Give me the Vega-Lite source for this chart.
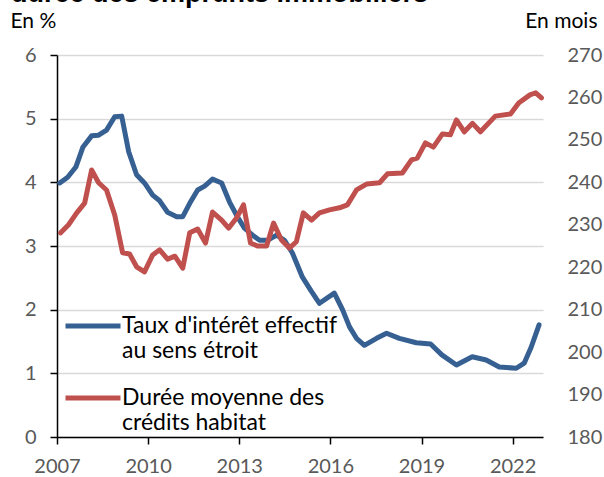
{
  "$schema": "https://vega.github.io/schema/vega-lite/v6.json",
  "autosize": {"type": "none"},
  "padding": {"left": 57, "top": 55, "right": 61, "bottom": 40},
  "width": 486,
  "height": 382,
  "background": "white",
  "title": {
    "text": "durée des emprunts immobiliers",
    "anchor": "start",
    "frame": "group",
    "dx": -46,
    "dy": 25,
    "baseline": "alphabetic",
    "offset": 6,
    "font": "Liberation Sans",
    "fontSize": 27,
    "fontWeight": "bold",
    "color": "black"
  },
  "config": {
    "view": {"stroke": null},
    "font": "Lato",
    "axis": {
      "labelFont": "Lato",
      "labelFontSize": 20,
      "labelColor": "#595959",
      "titleFont": "Lato",
      "titleFontSize": 21,
      "titleFontWeight": "normal",
      "titleColor": "#000000"
    },
    "legend": {
      "labelFont": "Lato",
      "labelFontSize": 23
    }
  },
  "data": {
    "values": [
      {"annee": 2007.09, "serie": "Taux d'intérêt effectif au sens étroit", "valeur": 3.99},
      {"annee": 2007.35, "serie": "Taux d'intérêt effectif au sens étroit", "valeur": 4.08},
      {"annee": 2007.62, "serie": "Taux d'intérêt effectif au sens étroit", "valeur": 4.24},
      {"annee": 2007.85, "serie": "Taux d'intérêt effectif au sens étroit", "valeur": 4.55},
      {"annee": 2008.14, "serie": "Taux d'intérêt effectif au sens étroit", "valeur": 4.73},
      {"annee": 2008.37, "serie": "Taux d'intérêt effectif au sens étroit", "valeur": 4.74},
      {"annee": 2008.63, "serie": "Taux d'intérêt effectif au sens étroit", "valeur": 4.82},
      {"annee": 2008.90, "serie": "Taux d'intérêt effectif au sens étroit", "valeur": 5.03},
      {"annee": 2009.13, "serie": "Taux d'intérêt effectif au sens étroit", "valeur": 5.04},
      {"annee": 2009.36, "serie": "Taux d'intérêt effectif au sens étroit", "valeur": 4.48},
      {"annee": 2009.62, "serie": "Taux d'intérêt effectif au sens étroit", "valeur": 4.12},
      {"annee": 2009.88, "serie": "Taux d'intérêt effectif au sens étroit", "valeur": 3.99},
      {"annee": 2010.15, "serie": "Taux d'intérêt effectif au sens étroit", "valeur": 3.80},
      {"annee": 2010.38, "serie": "Taux d'intérêt effectif au sens étroit", "valeur": 3.71},
      {"annee": 2010.64, "serie": "Taux d'intérêt effectif au sens étroit", "valeur": 3.53},
      {"annee": 2010.94, "serie": "Taux d'intérêt effectif au sens étroit", "valeur": 3.46},
      {"annee": 2011.14, "serie": "Taux d'intérêt effectif au sens étroit", "valeur": 3.46},
      {"annee": 2011.37, "serie": "Taux d'intérêt effectif au sens étroit", "valeur": 3.67},
      {"annee": 2011.63, "serie": "Taux d'intérêt effectif au sens étroit", "valeur": 3.88},
      {"annee": 2011.86, "serie": "Taux d'intérêt effectif au sens étroit", "valeur": 3.94},
      {"annee": 2012.12, "serie": "Taux d'intérêt effectif au sens étroit", "valeur": 4.05},
      {"annee": 2012.42, "serie": "Taux d'intérêt effectif au sens étroit", "valeur": 3.99},
      {"annee": 2012.68, "serie": "Taux d'intérêt effectif au sens étroit", "valeur": 3.69},
      {"annee": 2012.94, "serie": "Taux d'intérêt effectif au sens étroit", "valeur": 3.46},
      {"annee": 2013.17, "serie": "Taux d'intérêt effectif au sens étroit", "valeur": 3.28},
      {"annee": 2013.44, "serie": "Taux d'intérêt effectif au sens étroit", "valeur": 3.17},
      {"annee": 2013.67, "serie": "Taux d'intérêt effectif au sens étroit", "valeur": 3.09},
      {"annee": 2013.93, "serie": "Taux d'intérêt effectif au sens étroit", "valeur": 3.09},
      {"annee": 2014.23, "serie": "Taux d'intérêt effectif au sens étroit", "valeur": 3.17},
      {"annee": 2014.49, "serie": "Taux d'intérêt effectif au sens étroit", "valeur": 3.09},
      {"annee": 2014.75, "serie": "Taux d'intérêt effectif au sens étroit", "valeur": 2.89},
      {"annee": 2015.08, "serie": "Taux d'intérêt effectif au sens étroit", "valeur": 2.51},
      {"annee": 2015.36, "serie": "Taux d'intérêt effectif au sens étroit", "valeur": 2.30},
      {"annee": 2015.64, "serie": "Taux d'intérêt effectif au sens étroit", "valeur": 2.10},
      {"annee": 2016.13, "serie": "Taux d'intérêt effectif au sens étroit", "valeur": 2.26},
      {"annee": 2016.40, "serie": "Taux d'intérêt effectif au sens étroit", "valeur": 2.00},
      {"annee": 2016.63, "serie": "Taux d'intérêt effectif au sens étroit", "valeur": 1.73},
      {"annee": 2016.86, "serie": "Taux d'intérêt effectif au sens étroit", "valeur": 1.55},
      {"annee": 2017.12, "serie": "Taux d'intérêt effectif au sens étroit", "valeur": 1.44},
      {"annee": 2017.52, "serie": "Taux d'intérêt effectif au sens étroit", "valeur": 1.55},
      {"annee": 2017.85, "serie": "Taux d'intérêt effectif au sens étroit", "valeur": 1.63},
      {"annee": 2018.27, "serie": "Taux d'intérêt effectif au sens étroit", "valeur": 1.55},
      {"annee": 2018.83, "serie": "Taux d'intérêt effectif au sens étroit", "valeur": 1.48},
      {"annee": 2019.30, "serie": "Taux d'intérêt effectif au sens étroit", "valeur": 1.46},
      {"annee": 2019.67, "serie": "Taux d'intérêt effectif au sens étroit", "valeur": 1.29},
      {"annee": 2020.15, "serie": "Taux d'intérêt effectif au sens étroit", "valeur": 1.13},
      {"annee": 2020.67, "serie": "Taux d'intérêt effectif au sens étroit", "valeur": 1.26},
      {"annee": 2021.13, "serie": "Taux d'intérêt effectif au sens étroit", "valeur": 1.21},
      {"annee": 2021.56, "serie": "Taux d'intérêt effectif au sens étroit", "valeur": 1.10},
      {"annee": 2022.12, "serie": "Taux d'intérêt effectif au sens étroit", "valeur": 1.08},
      {"annee": 2022.38, "serie": "Taux d'intérêt effectif au sens étroit", "valeur": 1.16},
      {"annee": 2022.61, "serie": "Taux d'intérêt effectif au sens étroit", "valeur": 1.41},
      {"annee": 2022.87, "serie": "Taux d'intérêt effectif au sens étroit", "valeur": 1.76},

      {"annee": 2007.12, "serie": "Durée moyenne des crédits habitat", "valeur": 228.1},
      {"annee": 2007.38, "serie": "Durée moyenne des crédits habitat", "valeur": 230.0},
      {"annee": 2007.65, "serie": "Durée moyenne des crédits habitat", "valeur": 232.8},
      {"annee": 2007.91, "serie": "Durée moyenne des crédits habitat", "valeur": 235.1},
      {"annee": 2008.14, "serie": "Durée moyenne des crédits habitat", "valeur": 242.9},
      {"annee": 2008.37, "serie": "Durée moyenne des crédits habitat", "valeur": 239.9},
      {"annee": 2008.63, "serie": "Durée moyenne des crédits habitat", "valeur": 238.2},
      {"annee": 2008.90, "serie": "Durée moyenne des crédits habitat", "valeur": 232.3},
      {"annee": 2009.16, "serie": "Durée moyenne des crédits habitat", "valeur": 223.4},
      {"annee": 2009.39, "serie": "Durée moyenne des crédits habitat", "valeur": 223.1},
      {"annee": 2009.62, "serie": "Durée moyenne des crédits habitat", "valeur": 220.1},
      {"annee": 2009.88, "serie": "Durée moyenne des crédits habitat", "valeur": 218.9},
      {"annee": 2010.15, "serie": "Durée moyenne des crédits habitat", "valeur": 222.9},
      {"annee": 2010.38, "serie": "Durée moyenne des crédits habitat", "valeur": 224.1},
      {"annee": 2010.64, "serie": "Durée moyenne des crédits habitat", "valeur": 221.9},
      {"annee": 2010.88, "serie": "Durée moyenne des crédits habitat", "valeur": 222.6},
      {"annee": 2011.14, "serie": "Durée moyenne des crédits habitat", "valeur": 219.8},
      {"annee": 2011.37, "serie": "Durée moyenne des crédits habitat", "valeur": 228.1},
      {"annee": 2011.63, "serie": "Durée moyenne des crédits habitat", "valeur": 229.0},
      {"annee": 2011.89, "serie": "Durée moyenne des crédits habitat", "valeur": 225.7},
      {"annee": 2012.12, "serie": "Durée moyenne des crédits habitat", "valeur": 233.0},
      {"annee": 2012.42, "serie": "Durée moyenne des crédits habitat", "valeur": 231.1},
      {"annee": 2012.65, "serie": "Durée moyenne des crédits habitat", "valeur": 229.2},
      {"annee": 2012.91, "serie": "Durée moyenne des crédits habitat", "valeur": 231.6},
      {"annee": 2013.14, "serie": "Durée moyenne des crédits habitat", "valeur": 234.7},
      {"annee": 2013.37, "serie": "Durée moyenne des crédits habitat", "valeur": 225.7},
      {"annee": 2013.60, "serie": "Durée moyenne des crédits habitat", "valeur": 225.0},
      {"annee": 2013.90, "serie": "Durée moyenne des crédits habitat", "valeur": 225.0},
      {"annee": 2014.13, "serie": "Durée moyenne des crédits habitat", "valeur": 230.4},
      {"annee": 2014.39, "serie": "Durée moyenne des crédits habitat", "valeur": 226.4},
      {"annee": 2014.65, "serie": "Durée moyenne des crédits habitat", "valeur": 224.5},
      {"annee": 2014.88, "serie": "Durée moyenne des crédits habitat", "valeur": 226.0},
      {"annee": 2015.11, "serie": "Durée moyenne des crédits habitat", "valeur": 232.8},
      {"annee": 2015.38, "serie": "Durée moyenne des crédits habitat", "valeur": 231.1},
      {"annee": 2015.64, "serie": "Durée moyenne des crédits habitat", "valeur": 232.8},
      {"annee": 2015.97, "serie": "Durée moyenne des crédits habitat", "valeur": 233.5},
      {"annee": 2016.30, "serie": "Durée moyenne des crédits habitat", "valeur": 234.0},
      {"annee": 2016.56, "serie": "Durée moyenne des crédits habitat", "valeur": 234.7},
      {"annee": 2016.86, "serie": "Durée moyenne des crédits habitat", "valeur": 238.2},
      {"annee": 2017.19, "serie": "Durée moyenne des crédits habitat", "valeur": 239.6},
      {"annee": 2017.62, "serie": "Durée moyenne des crédits habitat", "valeur": 239.9},
      {"annee": 2017.88, "serie": "Durée moyenne des crédits habitat", "valeur": 242.0},
      {"annee": 2018.37, "serie": "Durée moyenne des crédits habitat", "valeur": 242.2},
      {"annee": 2018.67, "serie": "Durée moyenne des crédits habitat", "valeur": 245.3},
      {"annee": 2018.86, "serie": "Durée moyenne des crédits habitat", "valeur": 245.7},
      {"annee": 2019.13, "serie": "Durée moyenne des crédits habitat", "valeur": 249.3},
      {"annee": 2019.39, "serie": "Durée moyenne des crédits habitat", "valeur": 248.3},
      {"annee": 2019.69, "serie": "Durée moyenne des crédits habitat", "valeur": 251.4},
      {"annee": 2019.95, "serie": "Durée moyenne des crédits habitat", "valeur": 251.2},
      {"annee": 2020.15, "serie": "Durée moyenne des crédits habitat", "valeur": 254.7},
      {"annee": 2020.41, "serie": "Durée moyenne des crédits habitat", "valeur": 251.9},
      {"annee": 2020.68, "serie": "Durée moyenne des crédits habitat", "valeur": 253.9},
      {"annee": 2020.94, "serie": "Durée moyenne des crédits habitat", "valeur": 251.9},
      {"annee": 2021.43, "serie": "Durée moyenne des crédits habitat", "valeur": 255.6},
      {"annee": 2021.93, "serie": "Durée moyenne des crédits habitat", "valeur": 256.1},
      {"annee": 2022.20, "serie": "Durée moyenne des crédits habitat", "valeur": 258.7},
      {"annee": 2022.57, "serie": "Durée moyenne des crédits habitat", "valeur": 260.6},
      {"annee": 2022.76, "serie": "Durée moyenne des crédits habitat", "valeur": 261.1},
      {"annee": 2022.95, "serie": "Durée moyenne des crédits habitat", "valeur": 259.9}
    ]
  },
  "encoding": {
    "x": {
      "field": "annee",
      "type": "quantitative",
      "scale": {"domain": [2007, 2023], "nice": false, "zero": false},
      "axis": {
        "title": null,
        "values": [2007, 2010, 2013, 2016, 2019, 2022],
        "format": "d",
        "grid": false,
        "labelFlush": false,
        "domainColor": "#000000",
        "domainWidth": 1.5,
        "tickColor": "#000000",
        "tickWidth": 1.5,
        "tickSize": 7,
        "labelPadding": 12
      }
    },
    "color": {
      "field": "serie",
      "type": "nominal",
      "scale": {
        "domain": ["Taux d'intérêt effectif au sens étroit", "Durée moyenne des crédits habitat"],
        "range": ["#376092", "#c0504d"]
      },
      "legend": {
        "title": null,
        "orient": "none",
        "legendX": 6,
        "legendY": 241,
        "direction": "vertical",
        "symbolType": "stroke",
        "symbolSize": 3025,
        "symbolStrokeWidth": 5,
        "labelOffset": -1,
        "labelLimit": 400,
        "labelColor": "#000000",
        "labelLineHeight": 29,
        "rowPadding": 5,
        "labelExpr": "test(/^Taux/, datum.label) ? [\"Taux d'intérêt effectif\", \"au sens étroit\"] : [\"Durée moyenne des\", \"crédits habitat\"]"
      }
    }
  },
  "layer": [
    {
      "transform": [{"filter": "test(/^Taux/, datum.serie)"}],
      "mark": {"type": "line", "strokeWidth": 5, "strokeCap": "round", "strokeJoin": "round"},
      "encoding": {
        "y": {
          "field": "valeur",
          "type": "quantitative",
          "scale": {"domain": [0, 6], "nice": false},
          "axis": {
            "title": "En %",
            "titleAngle": 0,
            "titleAlign": "left",
            "titleBaseline": "alphabetic",
            "titleX": -47,
            "titleY": -28,
            "values": [0, 1, 2, 3, 4, 5, 6],
            "grid": true,
            "gridColor": "#d9d9d9",
            "gridWidth": 1.5,
            "domainColor": "#000000",
            "domainWidth": 1.5,
            "tickColor": "#000000",
            "tickWidth": 1.5,
            "tickSize": 7,
            "labelPadding": 14
          }
        }
      }
    },
    {
      "transform": [{"filter": "test(/^Durée/, datum.serie)"}],
      "mark": {"type": "line", "strokeWidth": 5, "strokeCap": "round", "strokeJoin": "round"},
      "encoding": {
        "y": {
          "field": "valeur",
          "type": "quantitative",
          "scale": {"domain": [180, 270], "nice": false, "zero": false},
          "axis": {
            "orient": "right",
            "title": "En mois",
            "titleAngle": 0,
            "titleAlign": "right",
            "titleBaseline": "alphabetic",
            "titleX": 54,
            "titleY": -28,
            "values": [180, 190, 200, 210, 220, 230, 240, 250, 260, 270],
            "grid": false,
            "domain": false,
            "ticks": false,
            "tickSize": 0,
            "labelAlign": "left",
            "labelPadding": 24
          }
        }
      }
    }
  ],
  "resolve": {"scale": {"y": "independent"}}
}
